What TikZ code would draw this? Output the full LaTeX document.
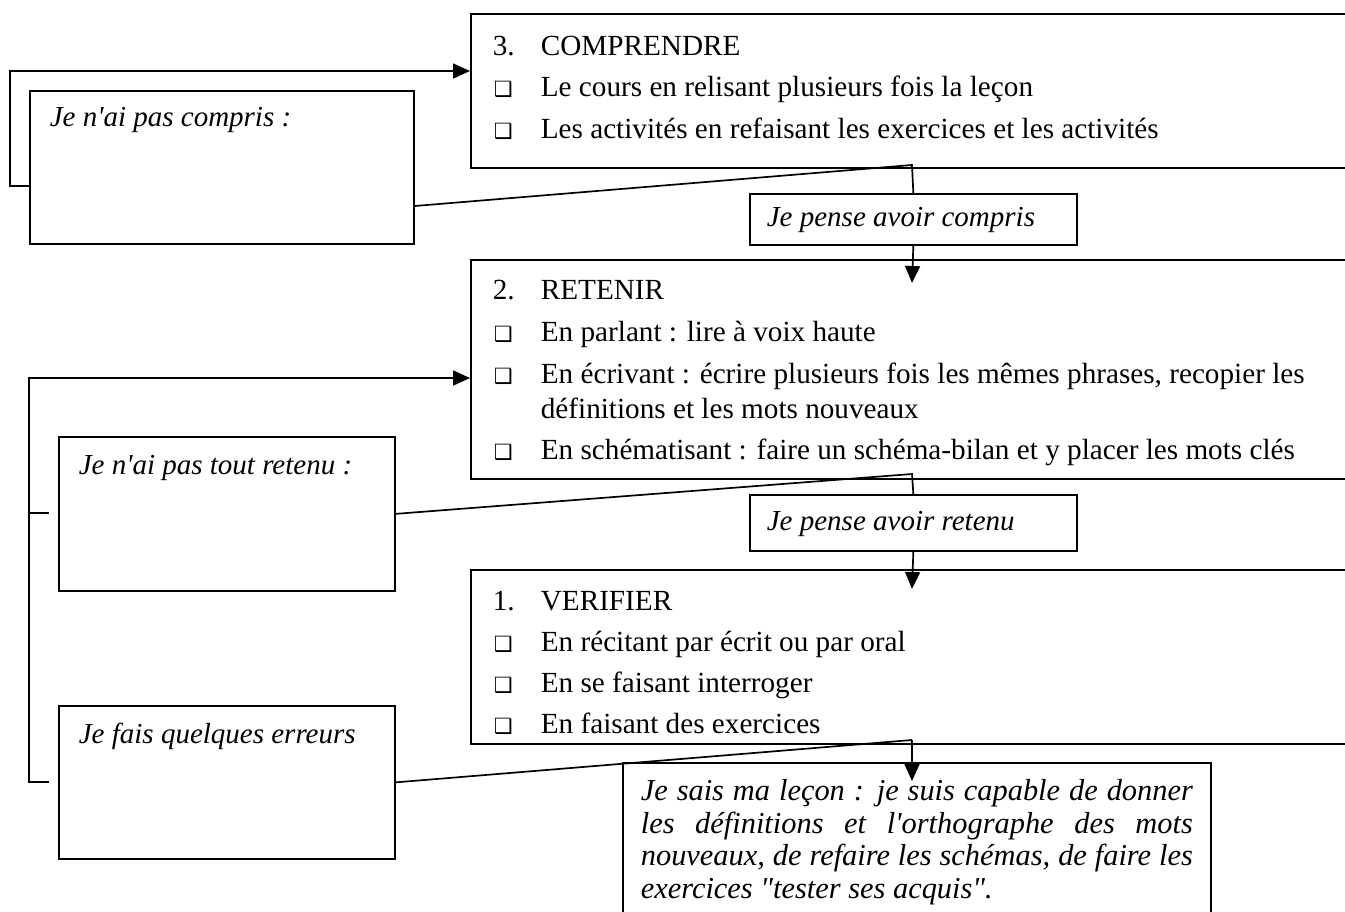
\documentclass[tikz,border=0pt]{standalone}
\usepackage{fontspec}
\newfontfamily\tnr{Liberation Serif}
\newfontfamily\symf{DejaVu Sans}
\usetikzlibrary{arrows.meta,calc}
\newcommand\bx{{\symf\fontsize{10.5}{10.5}\selectfont ❑}}
\begin{document}
\begin{tikzpicture}[x=0.5pt,y=-0.5pt, line width=0.85pt,
  box/.style={draw, rectangle, anchor=north west, inner sep=0pt},
  txt/.style={anchor=base west, inner sep=0pt, font=\tnr\fontsize{14.6}{18}\selectfont},
  itxt/.style={anchor=base west, inner sep=0pt, font=\tnr\fontsize{14.5}{18}\selectfont\itshape},
  arr/.style={-{Triangle[length=8.5pt,width=7.5pt]}},
]
\useasboundingbox (0,0) rectangle (1345,911);
\clip (0,0) rectangle (1345,911);

% main boxes (open to the right)
\node[box, minimum width=465pt, minimum height=77pt] (B3) at (470,13) {};
\node[box, minimum width=465pt, minimum height=109.5pt] (B2) at (470,259) {};
\node[box, minimum width=465pt, minimum height=87pt] (B1) at (470,569) {};
% small boxes
\node[box, minimum width=163.5pt, minimum height=25.5pt] (S1) at (749,193) {};
\node[box, minimum width=163.5pt, minimum height=28pt] (S2) at (749,494) {};
% left boxes
\node[box, minimum width=192pt, minimum height=76.5pt] (L1) at (29,90) {};
\node[box, minimum width=168pt, minimum height=77pt] (L2) at (58,436) {};
\node[box, minimum width=168pt, minimum height=76.5pt] (L3) at (58,705) {};
% final box
\node[box, minimum width=294pt, minimum height=100pt] (F) at (622,762) {};

% texts box 3
\node[txt] (n3) at (492,55) {3.};
\node[txt] (h3) at (540,55) {COMPRENDRE};
\node[txt] (b31) at (493,96) {\bx};
\node[txt] (t31) at (540,96) {Le cours en relisant plusieurs fois la leçon};
\node[txt] (b32) at (493,138) {\bx};
\node[txt] (t32) at (540,138) {Les activités en refaisant les exercices et les activités};
% texts box 2
\node[txt] (n2) at (492,299) {2.};
\node[txt] (h2) at (540,299) {RETENIR};
\node[txt] (b21) at (493,341) {\bx};
\node[txt] (t21) at (540,341) {En parlant : lire à voix haute};
\node[txt] (b22) at (493,383) {\bx};
\node[txt] (t22) at (540,383) {En écrivant : écrire plusieurs fois les mêmes phrases, recopier les};
\node[txt] (t22b) at (540,418) {définitions et les mots nouveaux};
\node[txt] (b23) at (493,459) {\bx};
\node[txt] (t23) at (540,459) {En schématisant : faire un schéma-bilan et y placer les mots clés};
% texts box 1
\node[txt] (n1) at (492,610) {1.};
\node[txt] (h1) at (540,610) {VERIFIER};
\node[txt] (b11) at (493,651) {\bx};
\node[txt] (t11) at (540,651) {En récitant par écrit ou par oral};
\node[txt] (b12) at (493,692) {\bx};
\node[txt] (t12) at (540,692) {En se faisant interroger};
\node[txt] (b13) at (493,733) {\bx};
\node[txt] (t13) at (540,733) {En faisant des exercices};
% small box texts
\node[itxt] (s1t) at (766,226) {Je pense avoir compris};
\node[itxt] (s2t) at (766,530) {Je pense avoir retenu};
% left box texts
\node[itxt] (l1t) at (49,126) {Je n'ai pas compris :};
\node[itxt] (l2t) at (78,474) {Je n'ai pas tout retenu :};
\node[itxt] (l3t) at (78,743) {Je fais quelques erreurs};
% final text
\node[anchor=north west, inner sep=0pt, text width=276pt, align=justify,
      font=\tnr\fontsize{15.2}{16.2}\selectfont\itshape] (Ft) at (640,779)
 {Je sais ma leçon : je suis capable de donner\linebreak
  les définitions et l'orthographe des mots\linebreak
  nouveaux, de refaire les schémas, de faire les\linebreak
  exercices "tester ses acquis".};

% coordinates
\coordinate (J1) at (912,165);
\coordinate (J2) at (912,474);
\coordinate (J3) at (912,740);
\coordinate (A1) at (912,283);
\coordinate (A2) at (912,589);
\coordinate (A3) at (912,781);
\coordinate (K1) at (10,186);
\coordinate (K2) at (10,71);
\coordinate (M1) at (29,378);
\coordinate (M2) at (29,513);
\coordinate (M3) at (29,782);
\coordinate (T2) at (49,513);
\coordinate (T3) at (49,782);

% connectors
\draw[arr] (L1.west |- K1) -- (K1) -- (K2) -- (B3.west |- K2);
\draw (L1.east |- 0,206) -- (J1) -- (S1.north);
\draw[arr] (S1.south) -- (A1);

\draw (T2) -- (M2);
\draw[arr] (T3) -- (M3) -- (M1) -- (B2.west |- M1);
\draw (L2.east) -- (J2) -- (S2.north);
\draw[arr] (S2.south) -- (A2);

\draw (L3.east) -- (J3);
\draw[arr] (J3) -- (A3);
\end{tikzpicture}
\end{document}
